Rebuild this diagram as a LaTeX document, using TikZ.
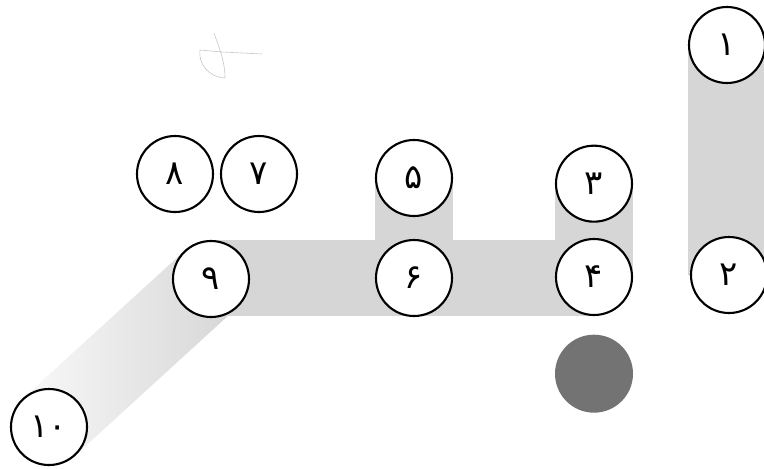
\documentclass[tikz,border=0pt]{standalone}
\usepackage{fontspec}
\usepackage{tikz}
\usetikzlibrary{shapes,positioning,calc,backgrounds}
\newfontfamily\arabicfont[Script=Arabic]{DejaVu Sans}

\begin{document}
\begin{tikzpicture}[x=0.03cm,y=-0.03cm,node distance=3cm,
  num/.style={circle, draw, line width=1.8pt, fill=white, minimum size=2.28cm, inner sep=0pt, font=\arabicfont\fontsize{29}{33}\selectfont},
  dot/.style={circle, fill=black!55, minimum size=2.34cm, inner sep=0pt},
  band/.style={fill=gray!32},
  scribble/.style={draw=gray!45, line width=0.5pt}]
  \useasboundingbox (0,0) rectangle (764,468);

  \node (n1) [num] at (727,45) {۱};
  \node (n2) [num] at (729,275) {۲};
  \node (n4) [num] at (594,277) {۴};
  \node (n3) [num, above of=n4, node distance=2.8cm] {۳};
  \node (dk) [dot, below of=n4, node distance=2.9cm] {};
  \node (n6) [num] at (414,278) {۶};
  \node (n5) [num, above of=n6] {۵};
  \node (n9) [num] at (211,279) {۹};
  \node (n8) [num] at (175,174) {۸};
  \node (n7) [num, right of=n8, node distance=2.52cm] {۷};
  \node (n10) [num] at (49,427) {۱۰};

  % shaded strips behind the circles
  \begin{pgfonlayer}{background}
    \fill[band] (n1.west) rectangle (n2.east);
    \fill[band] (n3.west) rectangle (n4.east);
    \fill[band] (n5.west) rectangle (n6.east);
    \fill[band] (n9.north) rectangle (n4.south);
    \path[left color=gray!5, right color=gray!32]
      ($(n9)!1.16cm!90:(n10)$) -- ($(n10)!1.16cm!-90:(n9)$)
      -- ($(n10)!1.16cm!90:(n9)$) -- ($(n9)!1.16cm!-90:(n10)$) -- cycle;
  \end{pgfonlayer}

  % pen mark at the top
  \draw[scribble] (214,33) .. controls (220,50) and (225,62) .. (225,78)
    .. controls (208,77) and (198,63) .. (200,50) -- (222,52) -- (262,54);
\end{tikzpicture}
\end{document}
